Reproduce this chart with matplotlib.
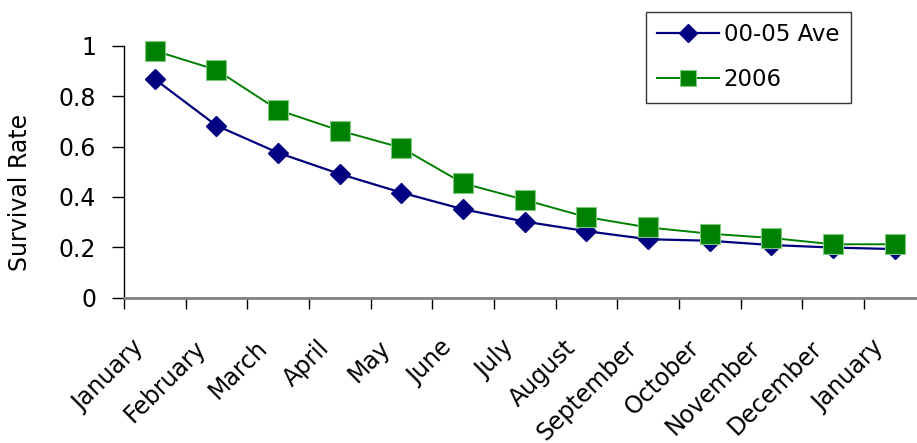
import matplotlib
matplotlib.use("Agg")
import matplotlib.pyplot as plt
from matplotlib.transforms import ScaledTranslation

months = ["January", "February", "March", "April", "May", "June", "July",
          "August", "September", "October", "November", "December", "January"]
ave_00_05 = [0.867, 0.683, 0.575, 0.491, 0.417, 0.351, 0.302, 0.264, 0.232,
             0.226, 0.209, 0.199, 0.193]
y2006 = [0.980, 0.904, 0.745, 0.663, 0.595, 0.454, 0.388, 0.320, 0.279,
         0.254, 0.237, 0.212, 0.212]
yticks = [0, 0.2, 0.4, 0.6, 0.8, 1]
ytick_labels = ["0", "0.2", "0.4", "0.6", "0.8", "1"]

plt.rcParams['font.family'] = ['DejaVu Sans']
FS = 17

fig = plt.figure(figsize=(9.17, 4.43), dpi=100)
ax = fig.add_axes([124/917, 145.3/443, (925.5-124)/917, (297.7-45.7)/443])

x = list(range(len(months)))
ax.plot(x, ave_00_05, color='#000080', lw=1.6, marker='D', markersize=10.5,
        markerfacecolor='#000080', markeredgecolor='#000080', label='00-05 Ave',
        clip_on=False, zorder=3)
ax.plot(x, y2006, color='#008000', lw=1.4, marker='s', markersize=14,
        markerfacecolor='#008000', markeredgecolor='#7fc97f', markeredgewidth=0.8,
        label='2006', clip_on=False, zorder=4)

ax.set_xlim(-0.5, 12.5)
ax.set_ylim(0, 1)
ax.set_yticks(yticks)
ax.set_yticklabels(ytick_labels, fontsize=FS)
ax.set_xticks([i - 0.5 for i in range(13)])
ax.set_xticklabels([])
ax.set_xticks(x, minor=True)
ax.set_xticklabels(months, minor=True, rotation=45, ha='right', va='top',
                   rotation_mode='anchor', fontsize=FS)
ax.tick_params(axis='x', which='minor', length=0, pad=27.5)
ax.tick_params(axis='x', which='major', length=8, width=1, direction='out', color='black')
ax.tick_params(axis='y', length=9, width=1, direction='out', pad=11)

offset = ScaledTranslation(-23/100, 0, fig.dpi_scale_trans)
for lab in ax.get_xticklabels(minor=True):
    lab.set_transform(lab.get_transform() + offset)

for s in ['top', 'right']:
    ax.spines[s].set_visible(False)
ax.spines['left'].set_color('black')
ax.spines['left'].set_linewidth(1)
ax.spines['bottom'].set_color('#808080')
ax.spines['bottom'].set_linewidth(2)

ax.set_ylabel('Survival Rate', fontsize=FS)
ax.yaxis.set_label_coords((32-124)/801.5, (297.7-192)/252)

leg = fig.legend(loc='upper left', bbox_to_anchor=(645.7/917, 1 - 12/443),
                 fontsize=16.5, frameon=True, fancybox=False, handlelength=2.7,
                 handletextpad=0.2, borderpad=0.5, labelspacing=0.95,
                 borderaxespad=0)
leg.get_frame().set_edgecolor('black')
leg.get_frame().set_linewidth(1)
leg.legend_handles[0].set_markersize(9)
leg.legend_handles[1].set_markersize(11)

fig.savefig('out.png', dpi=100)
